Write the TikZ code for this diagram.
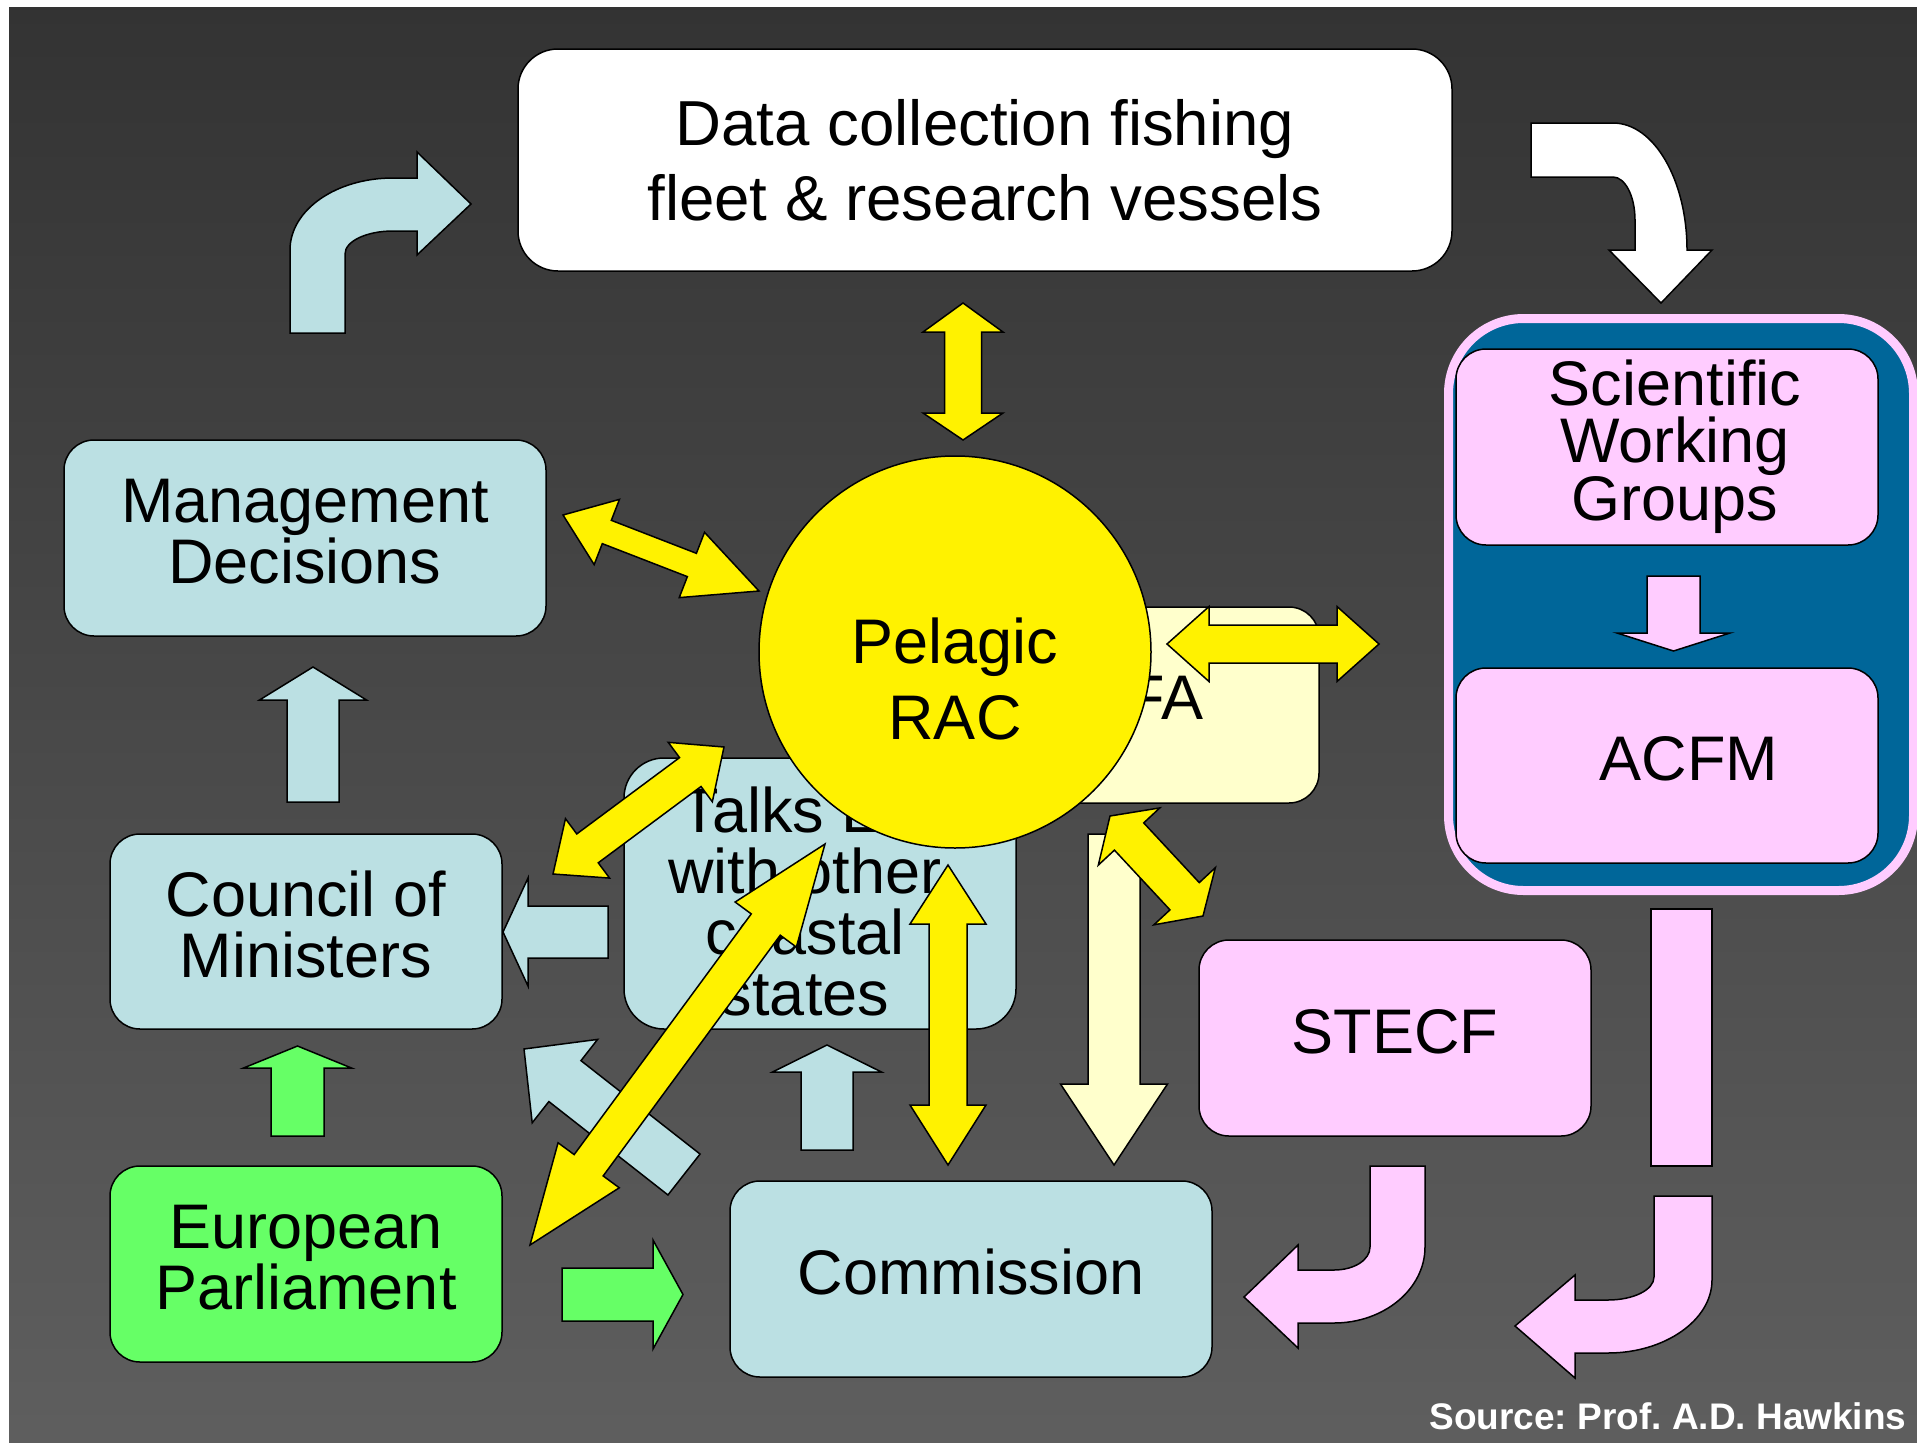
\documentclass[tikz,border=0pt]{standalone}
\usepackage{fontspec}
\setmainfont{Liberation Sans}
\usetikzlibrary{calc}
\definecolor{lblue}{RGB}{187,224,227}
\definecolor{lgreen}{RGB}{102,255,102}
\definecolor{lyellow}{RGB}{255,255,204}
\definecolor{lpink}{RGB}{255,204,255}
\definecolor{seablue}{RGB}{0,102,153}
\newcommand\lowstrut{\rule[-14pt]{0pt}{14pt}}
\def\blockarrow[#1](#2)(#3)#4#5#6{\draw[#1] ($(#2)!#4!90:(#3)$) -- ($(#3)!#6!(#2)!#4!-90:(#2)$) -- ($(#3)!#6!(#2)!#5!-90:(#2)$) -- (#3) -- ($(#3)!#6!(#2)!#5!90:(#2)$) -- ($(#3)!#6!(#2)!#4!90:(#2)$) -- ($(#2)!#4!-90:(#3)$) -- cycle;}
\def\dblarrow[#1](#2)(#3)#4#5#6#7{\draw[#1] (#2) -- ($(#2)!#6!(#3)!#5!90:(#3)$) -- ($(#2)!#6!(#3)!#4!90:(#3)$) -- ($(#3)!#7!(#2)!#4!-90:(#2)$) -- ($(#3)!#7!(#2)!#5!-90:(#2)$) -- (#3) -- ($(#3)!#7!(#2)!#5!90:(#2)$) -- ($(#3)!#7!(#2)!#4!90:(#2)$) -- ($(#2)!#6!(#3)!#4!-90:(#3)$) -- ($(#2)!#6!(#3)!#5!-90:(#3)$) -- cycle;}

\begin{document}
\begin{tikzpicture}[x=1pt, y=-1pt,
	box/.style={draw=black, line width=1.5pt, rounded corners=30pt, inner sep=0pt, align=center, font=\fontsize{63}{61}\selectfont},
	outline/.style={draw=black, line width=1.5pt},
	lbarrow/.style={outline, fill=lblue},
	grarrow/.style={outline, fill=lgreen},
	pkarrow/.style={outline, fill=lpink},
	lyarrow/.style={outline, fill=lyellow},
	ylarrow/.style={outline, fill=yellow}]
		%%%%% START %%%%%
		\fill[white] (0,0) rectangle (1917,1443);
		\useasboundingbox (0,0) rectangle (1917,1443);
		\shade[top color=black!80, bottom color=black!63] (9,7) rectangle (1917,1443);
		
		\draw[lbarrow] (290,333) -- (290,250) .. controls (290,210) and (336,178) .. (393,178) -- (417,178) -- (417,152) -- (471,204) -- (417,255) -- (417,231) -- (393,231) .. controls (367,231) and (345,241) .. (345,254) -- (345,333) -- cycle;
		\draw[outline, fill=white] (1531,123) -- (1613,123) .. controls (1654,123) and (1687,180) .. (1687,250) -- (1712,250) -- (1661,303) -- (1609,250) -- (1635,250) -- (1635,220) .. controls (1635,196) and (1625,177) .. (1613,177) -- (1531,177) -- cycle;
		
		\node[box, fill=white, rounded corners=40pt, minimum width=934pt, minimum height=222pt, font=\fontsize{63.6}{75}\selectfont] (data) at (985,160) {Data collection fishing\\fleet \& research vessels};
		\node[box, fill=lblue, minimum width=482pt, minimum height=196pt, font=\fontsize{63}{61}\selectfont] (mgmt) at (305,538) {Management\\Decisions\lowstrut};
		\node[box, fill=lblue, minimum width=392pt, minimum height=195pt] (council) at (306,931.5) {Council of\\Ministers\lowstrut};
		\node[box, fill=lgreen, minimum width=392pt, minimum height=196pt] (parl) at (306,1264) {European\\Parliament\lowstrut};
		\node[box, fill=lblue, minimum width=482pt, minimum height=196pt] (comm) at (971,1279) {Commission\lowstrut};
		\node[box, fill=lpink, minimum width=392pt, minimum height=196pt] (stecf) at (1395,1038) {STECF\lowstrut};
		\node[box, fill=lblue, rounded corners=40pt, minimum width=392pt, minimum height=271pt] (talks) at (820,893.5) {\hspace*{-30pt}\rule{0pt}{62pt}Talks EU\\\hspace*{-30pt}with other\\\hspace*{-30pt}coastal\\\hspace*{-30pt}states};
		\node[box, fill=lyellow, minimum width=350pt, minimum height=196pt] (pfa) at (1144,705) {PFA\lowstrut};
		
		\node[draw=lpink, line width=9pt, fill=seablue, rounded corners=75pt, minimum width=465pt, minimum height=572pt] (frame) at (1681,604.5) {};
		\node[box, fill=lpink, minimum width=422pt, minimum height=196pt, font=\fontsize{63}{57}\selectfont] (swg) at (1667,447) {\hspace*{16pt}Scientific\\\hspace*{16pt}Working\\\hspace*{16pt}Groups};
		\node[box, fill=lpink, minimum width=422pt, minimum height=195pt] (acfm) at (1667,765.5) {\hspace*{44pt}ACFM\lowstrut};
		
		\coordinate (p1a) at (1673.5,576);
		\coordinate (p1b) at (1673.5,651);
		\blockarrow[pkarrow](p1a)(p1b){26.5pt}{56.5pt}{18pt}
		\draw[pkarrow] (1651,909) rectangle (1712,1166);
		\draw[pkarrow] (1654,1196) -- (1712,1196) -- (1712,1280) .. controls (1712,1320) and (1665,1353) .. (1608,1353) -- (1575,1353) -- (1575,1378) -- (1515,1326) -- (1575,1275) -- (1575,1300) -- (1608,1300) .. controls (1633,1300) and (1654,1290) .. (1654,1277) -- cycle;
		\draw[pkarrow] (1370,1166) -- (1425,1166) -- (1425,1247) .. controls (1425,1289) and (1384,1323) .. (1334,1323) -- (1298,1323) -- (1298,1348) -- (1244,1297) -- (1298,1245) -- (1298,1270) -- (1334,1270) .. controls (1354,1270) and (1370,1260) .. (1370,1247) -- cycle;
		
		\coordinate (b1a) at (313,802);
		\coordinate (b1b) at (313,667);
		\coordinate (b2a) at (608,932);
		\coordinate (b2b) at (503,932);
		\coordinate (b3a) at (684,1174.5);
		\coordinate (b3b) at (524,1049);
		\coordinate (b4a) at (827,1150);
		\coordinate (b4b) at (827,1045);
		\blockarrow[lbarrow](b1a)(b1b){26pt}{53.5pt}{33pt}
		\blockarrow[lbarrow](b2a)(b2b){26pt}{54pt}{25pt}
		\blockarrow[lbarrow](b3a)(b3b){26pt}{53pt}{52pt}
		\blockarrow[lbarrow](b4a)(b4b){26pt}{54.5pt}{27pt}
		
		\coordinate (g1a) at (297.5,1136);
		\coordinate (g1b) at (297.5,1046);
		\coordinate (g2a) at (562,1294.5);
		\coordinate (g2b) at (683,1294.5);
		\blockarrow[grarrow](g1a)(g1b){26.5pt}{54pt}{22pt}
		\blockarrow[grarrow](g2a)(g2b){26.5pt}{54.5pt}{30pt}
		
		\coordinate (lya) at (1114,834);
		\coordinate (lyb) at (1114,1165);
		\blockarrow[lyarrow](lya)(lyb){26pt}{53.5pt}{81pt}
		
		\node[circle, outline, fill=yellow, minimum size=392pt, inner sep=0pt, align=center, font=\fontsize{63}{76}\selectfont] (rac) at (955,652) {\rule{0pt}{99pt}Pelagic\\RAC};
		
		\coordinate (y1a) at (963,303);
		\coordinate (y1b) at (963,440);
		\coordinate (y2a) at (563,515);
		\coordinate (y2b) at (759,591);
		\coordinate (y3a) at (1167,644);
		\coordinate (y3b) at (1379,644);
		\coordinate (y4a) at (553,874);
		\coordinate (y4b) at (724,747);
		\coordinate (y5a) at (530,1245);
		\coordinate (y5b) at (825,844);
		\coordinate (y6a) at (948,865);
		\coordinate (y6b) at (948,1165);
		\coordinate (y7a) at (1110,816);
		\coordinate (y7b) at (1203,916);
		\dblarrow[ylarrow](y1a)(y1b){18.5pt}{40pt}{29pt}{27pt}
		\dblarrow[ylarrow](y2a)(y2b){12.5pt}{35pt}{47pt}{72pt}
		\dblarrow[ylarrow](y3a)(y3b){19pt}{37.5pt}{42pt}{42pt}
		\dblarrow[ylarrow](y4a)(y4b){18pt}{37pt}{43pt}{42pt}
		\dblarrow[ylarrow](y5a)(y5b){18pt}{38pt}{99pt}{100pt}
		\dblarrow[ylarrow](y6a)(y6b){19pt}{38pt}{59pt}{60pt}
		\dblarrow[ylarrow](y7a)(y7b){20pt}{42pt}{28pt}{27pt}
		
		\node[anchor=base east, text=white, font=\bfseries\fontsize{37}{40}\selectfont] (src) at (1910,1429) {\frenchspacing Source: Prof. A.D. Hawkins};
		%%%%% END %%%%%
	\end{tikzpicture}
\end{document}
